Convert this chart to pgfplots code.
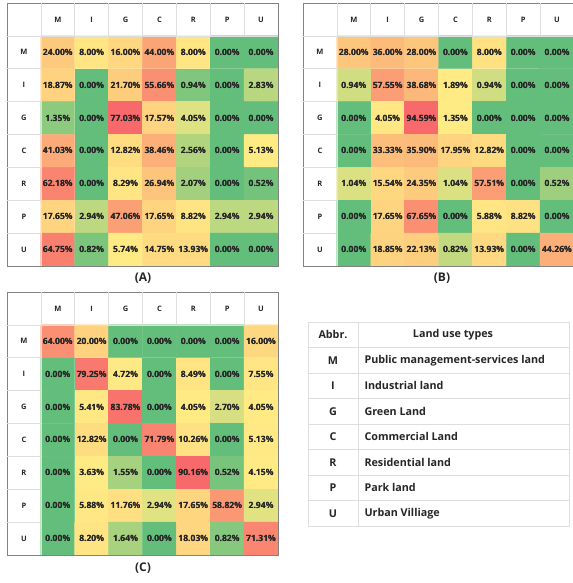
\documentclass[border=0pt]{standalone}
\usepackage{pgfplots}
\pgfplotsset{compat=1.18}
\usepackage{pgfplotstable}
\usepackage{fontspec}
\setmainfont{Open Sans}
\definecolor{txt}{RGB}{38,38,38}
\definecolor{hline}{RGB}{222,222,222}
\definecolor{bord}{RGB}{130,130,130}

\pgfplotstableread[row sep=\\]{
x y c\\
0 0 24.00\\ 1 0 8.00\\ 2 0 16.00\\ 3 0 44.00\\ 4 0 8.00\\ 5 0 0.00\\ 6 0 0.00\\
0 1 18.87\\ 1 1 0.00\\ 2 1 21.70\\ 3 1 55.66\\ 4 1 0.94\\ 5 1 0.00\\ 6 1 2.83\\
0 2 1.35\\ 1 2 0.00\\ 2 2 77.03\\ 3 2 17.57\\ 4 2 4.05\\ 5 2 0.00\\ 6 2 0.00\\
0 3 41.03\\ 1 3 0.00\\ 2 3 12.82\\ 3 3 38.46\\ 4 3 2.56\\ 5 3 0.00\\ 6 3 5.13\\
0 4 62.18\\ 1 4 0.00\\ 2 4 8.29\\ 3 4 26.94\\ 4 4 2.07\\ 5 4 0.00\\ 6 4 0.52\\
0 5 17.65\\ 1 5 2.94\\ 2 5 47.06\\ 3 5 17.65\\ 4 5 8.82\\ 5 5 2.94\\ 6 5 2.94\\
0 6 64.75\\ 1 6 0.82\\ 2 6 5.74\\ 3 6 14.75\\ 4 6 13.93\\ 5 6 0.00\\ 6 6 0.00\\
}\tabA

\pgfplotstableread[row sep=\\]{
x y c\\
0 0 28.00\\ 1 0 36.00\\ 2 0 28.00\\ 3 0 0.00\\ 4 0 8.00\\ 5 0 0.00\\ 6 0 0.00\\
0 1 0.94\\ 1 1 57.55\\ 2 1 38.68\\ 3 1 1.89\\ 4 1 0.94\\ 5 1 0.00\\ 6 1 0.00\\
0 2 0.00\\ 1 2 4.05\\ 2 2 94.59\\ 3 2 1.35\\ 4 2 0.00\\ 5 2 0.00\\ 6 2 0.00\\
0 3 0.00\\ 1 3 33.33\\ 2 3 35.90\\ 3 3 17.95\\ 4 3 12.82\\ 5 3 0.00\\ 6 3 0.00\\
0 4 1.04\\ 1 4 15.54\\ 2 4 24.35\\ 3 4 1.04\\ 4 4 57.51\\ 5 4 0.00\\ 6 4 0.52\\
0 5 0.00\\ 1 5 17.65\\ 2 5 67.65\\ 3 5 0.00\\ 4 5 5.88\\ 5 5 8.82\\ 6 5 0.00\\
0 6 0.00\\ 1 6 18.85\\ 2 6 22.13\\ 3 6 0.82\\ 4 6 13.93\\ 5 6 0.00\\ 6 6 44.26\\
}\tabB

\pgfplotstableread[row sep=\\]{
x y c\\
0 0 64.00\\ 1 0 20.00\\ 2 0 0.00\\ 3 0 0.00\\ 4 0 0.00\\ 5 0 0.00\\ 6 0 16.00\\
0 1 0.00\\ 1 1 79.25\\ 2 1 4.72\\ 3 1 0.00\\ 4 1 8.49\\ 5 1 0.00\\ 6 1 7.55\\
0 2 0.00\\ 1 2 5.41\\ 2 2 83.78\\ 3 2 0.00\\ 4 2 4.05\\ 5 2 2.70\\ 6 2 4.05\\
0 3 0.00\\ 1 3 12.82\\ 2 3 0.00\\ 3 3 71.79\\ 4 3 10.26\\ 5 3 0.00\\ 6 3 5.13\\
0 4 0.00\\ 1 4 3.63\\ 2 4 1.55\\ 3 4 0.00\\ 4 4 90.16\\ 5 4 0.52\\ 6 4 4.15\\
0 5 0.00\\ 1 5 5.88\\ 2 5 11.76\\ 3 5 2.94\\ 4 5 17.65\\ 5 5 58.82\\ 6 5 2.94\\
0 6 0.00\\ 1 6 8.20\\ 2 6 1.64\\ 3 6 0.00\\ 4 6 18.03\\ 5 6 0.82\\ 6 6 71.31\\
}\tabC

\pgfplotsset{
  colormap={mapA}{rgb255(0pt)=(99,190,123) rgb255(5.13pt)=(255,235,132) rgb255(77.03pt)=(248,105,107)},
  colormap={mapB}{rgb255(0pt)=(99,190,123) rgb255(1.35pt)=(255,235,132) rgb255(94.59pt)=(248,105,107)},
  colormap={mapC}{rgb255(0pt)=(99,190,123) rgb255(3.63pt)=(255,235,132) rgb255(90.16pt)=(248,105,107)},
  hm/.style={scale only axis, width=271bp, height=263bp,
    xmin=-1.5, xmax=6.5, ymin=-1.5, ymax=6.5, y dir=reverse,
    ticks=none, enlargelimits=false, anchor=north west,
    axis line style={draw=bord, line width=0.6pt},
    /pgf/number format/assume math mode=true},
  cells/.style={draw=none, mark=none, point meta=explicit,
    nodes near coords={\pgfmathprintnumber[fixed,fixed zerofill,precision=2,assume math mode=true]{\pgfplotspointmeta}\%},
    nodes near coords align=center,
    every node near coord/.append style={font=\bfseries\fontsize{8.6}{9}\selectfont, text=txt, inner sep=0pt, anchor=center}},
}
\tikzset{hl/.style={font=\bfseries\fontsize{7.5}{8}\selectfont, text=txt},
  tl/.style={font=\bfseries\fontsize{10.8}{12}\selectfont, text=txt},
  pl/.style={font=\bfseries\fontsize{12}{14}\selectfont, text=txt}}

\newcommand\hdr{%
  \draw[hline, line width=0.6pt] (axis cs:-1.5,-0.5) -- (axis cs:6.5,-0.5)
     (axis cs:-0.5,-1.5) -- (axis cs:-0.5,6.5)
     (axis cs:0.5,-1.5) -- (axis cs:0.5,-0.5) (axis cs:1.5,-1.5) -- (axis cs:1.5,-0.5)
     (axis cs:2.5,-1.5) -- (axis cs:2.5,-0.5) (axis cs:3.5,-1.5) -- (axis cs:3.5,-0.5)
     (axis cs:4.5,-1.5) -- (axis cs:4.5,-0.5) (axis cs:5.5,-1.5) -- (axis cs:5.5,-0.5)
     (axis cs:-1.5,0.5) -- (axis cs:-0.5,0.5) (axis cs:-1.5,1.5) -- (axis cs:-0.5,1.5)
     (axis cs:-1.5,2.5) -- (axis cs:-0.5,2.5) (axis cs:-1.5,3.5) -- (axis cs:-0.5,3.5)
     (axis cs:-1.5,4.5) -- (axis cs:-0.5,4.5) (axis cs:-1.5,5.5) -- (axis cs:-0.5,5.5);
  \node[hl] at (axis cs:0,-1) {M}; \node[hl] at (axis cs:1,-1) {I};
  \node[hl] at (axis cs:2,-1) {G}; \node[hl] at (axis cs:3,-1) {C};
  \node[hl] at (axis cs:4,-1) {R}; \node[hl] at (axis cs:5,-1) {P};
  \node[hl] at (axis cs:6,-1) {U};
  \node[hl] at (axis cs:-1,0) {M}; \node[hl] at (axis cs:-1,1) {I};
  \node[hl] at (axis cs:-1,2) {G}; \node[hl] at (axis cs:-1,3) {C};
  \node[hl] at (axis cs:-1,4) {R}; \node[hl] at (axis cs:-1,5) {P};
  \node[hl] at (axis cs:-1,6) {U};
}

\begin{document}
\begin{tikzpicture}
\useasboundingbox[fill=white] (0,0) rectangle (573bp,583bp);

% (A)
\begin{axis}[hm, at={(7bp,580bp)}, colormap name=mapA, point meta min=0, point meta max=77.03]
\addplot[matrix plot*, mesh/cols=7, point meta=explicit] table[x=x,y=y,meta=c]{\tabA};
\addplot[cells] table[x=x,y=y,meta=c]{\tabA};
\hdr
\end{axis}

% (B)
\begin{axis}[hm, at={(303bp,580bp)}, colormap name=mapB, point meta min=0, point meta max=94.59]
\addplot[matrix plot*, mesh/cols=7, point meta=explicit] table[x=x,y=y,meta=c]{\tabB};
\addplot[cells] table[x=x,y=y,meta=c]{\tabB};
\hdr
\end{axis}

% (C)
\begin{axis}[hm, at={(7bp,291bp)}, colormap name=mapC, point meta min=0, point meta max=90.16]
\addplot[matrix plot*, mesh/cols=7, point meta=explicit] table[x=x,y=y,meta=c]{\tabC};
\addplot[cells] table[x=x,y=y,meta=c]{\tabC};
\hdr
\end{axis}

\node[pl] at (143bp,305bp) {(A)};
\node[pl] at (442bp,305bp) {(B)};
\node[pl] at (143bp,15bp) {(C)};

% legend table
\draw[hline, line width=0.6pt] (308bp,57bp) rectangle (569bp,261bp);
\draw[hline, line width=0.6pt] (358bp,57bp) -- (358bp,261bp);
\foreach \k in {1,...,7} {
  \draw[hline, line width=0.6pt] (308bp,261bp-\k*25.5bp) -- (569bp,261bp-\k*25.5bp);
}
\node[tl] at (333bp,248.25bp) {Abbr.};
\node[tl] at (453bp,248.25bp) {Land use types};
\foreach \k/\a/\b in {1/M/Public management-services land, 2/I/Industrial land,
   3/G/Green Land, 4/C/Commercial Land, 5/R/Residential land, 6/P/Park land, 7/U/Urban Villiage} {
  \node[tl] at (333bp,248.25bp-\k*25.5bp) {\a};
  \node[tl, anchor=west] at (361bp,248.25bp-\k*25.5bp) {\b};
}
\end{tikzpicture}
\end{document}
